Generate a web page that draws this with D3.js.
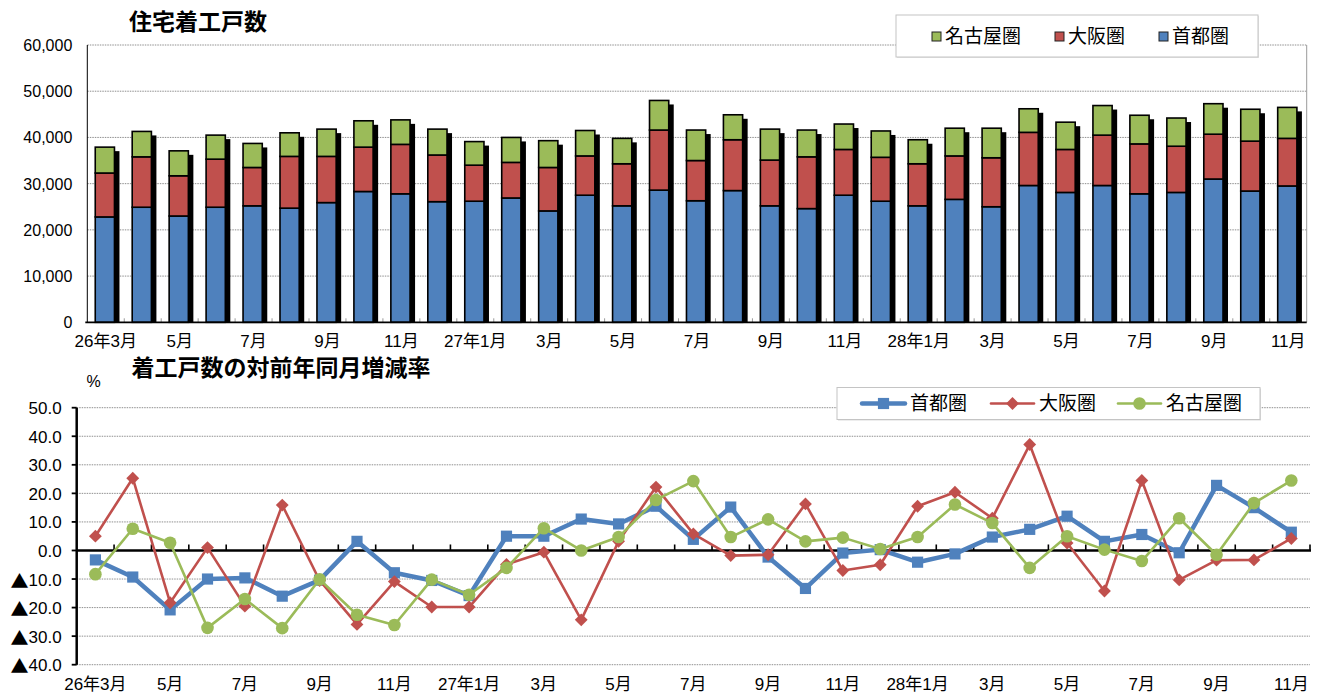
<!DOCTYPE html>
<html>
<head>
<meta charset="utf-8">
<script src="https://cdn.jsdelivr.net/npm/d3@7"></script>
<style>
  body { margin: 0; background: #fff; }
  svg { display: block; }
  text { font-family: "Liberation Sans", "Noto Sans CJK JP", sans-serif; fill: #000; }
  .cjk { font-family: "Noto Sans CJK JP", sans-serif; }
</style>
</head>
<body>
<svg id="chart" width="1320" height="693"></svg>
<script>
// 月の区分（26年3月〜28年11月）
const categories = [
  "26年3月","4月","5月","6月","7月","8月","9月","10月","11月","12月",
  "27年1月","2月","3月","4月","5月","6月","7月","8月","9月","10月","11月","12月",
  "28年1月","2月","3月","4月","5月","6月","7月","8月","9月","10月","11月"
];

// 住宅着工戸数（戸）
const shutoken = [22800, 24900, 23000, 24900, 25200, 24700, 25900, 28300, 27800, 26100,
  26200, 26900, 24100, 27500, 25200, 28600, 26300, 28500, 25200, 24600, 27500, 26200,
  25200, 26600, 25000, 29600, 28100, 29600, 27800, 28100, 31000, 28400, 29500];
const osaka = [9500, 10900, 8700, 10400, 8300, 11200, 10000, 9600, 10700, 10100,
  7800, 7700, 9400, 8500, 9100, 13000, 8700, 11000, 9900, 11200, 9900, 9500,
  9100, 9400, 10600, 11500, 9300, 10900, 10800, 10000, 9700, 10800, 10300];
const nagoya = [5600, 5500, 5400, 5200, 5200, 5100, 5900, 5700, 5300, 5600,
  5100, 5400, 5800, 5500, 5500, 6400, 6600, 5400, 6700, 5800, 5500, 5700,
  5200, 6000, 6400, 5100, 5900, 6400, 6200, 6100, 6600, 6900, 6700];

// 対前年同月増減率（%）
const shutokenRate = [-3.3, -9.3, -20.8, -10.0, -9.6, -16.0, -10.4, 3.2, -7.8, -10.5,
  -15.8, 5.0, 5.0, 11.0, 9.3, 15.5, 3.9, 15.2, -2.3, -13.3, -0.9, 0.3,
  -4.1, -1.2, 4.7, 7.4, 12.0, 3.2, 5.6, -0.8, 22.8, 15.0, 6.4];
const osakaRate = [5.0, 25.3, -18.3, 1.0, -19.5, 15.9, -10.5, -25.9, -10.9, -19.8,
  -19.8, -4.9, -0.6, -24.3, 3.2, 22.2, 5.8, -1.8, -1.5, 16.3, -7.0, -5.0,
  15.5, 20.4, 11.3, 37.1, 2.6, -14.2, 24.5, -10.3, -3.4, -3.3, 4.2];
const nagoyaRate = [-8.3, 7.6, 2.7, -27.1, -17.0, -27.2, -10.1, -22.5, -26.1, -10.2,
  -15.5, -6.1, 7.8, 0.0, 4.7, 17.7, 24.3, 4.7, 10.9, 3.2, 4.5, 0.5,
  4.7, 16.1, 9.6, -6.1, 5.0, 0.3, -3.7, 11.3, -1.5, 16.6, 24.5];

// 軸目盛
const countTicks = [0, 10000, 20000, 30000, 40000, 50000, 60000];
const rateTicks = [-40, -30, -20, -10, 0, 10, 20, 30, 40, 50];

const idx = d3.range(categories.length);            // 各月の位置（重複する月名を区別）
const labelIdx = idx.filter(i => i % 2 === 0);       // 2か月おきに表示

const colors = { shutoken: "#4F81BD", osaka: "#C0504D", nagoya: "#9BBB59" };
const names = { shutoken: "首都圏", osaka: "大阪圏", nagoya: "名古屋圏" };

const svg = d3.select("#chart");
svg.append("rect").attr("width", 1320).attr("height", 693).attr("fill", "#fff");

const gridStyle = sel => sel.attr("stroke", "#8f8f8f").attr("stroke-width", 1).attr("stroke-dasharray", "1.5,1");

/* ---------------- 上段：住宅着工戸数（積み上げ棒） ---------------- */
const area1 = { left: 87.3, right: 1306.7, top: 45, bottom: 322.3 };
const x1 = d3.scaleBand().domain(idx).range([area1.left, area1.right]);
const y1 = d3.scaleLinear().domain([0, 60000]).range([area1.bottom, area1.top]);

const g1 = svg.append("g");

g1.append("text").attr("x", 198).attr("y", 22).attr("text-anchor", "middle")
  .attr("dominant-baseline", "central").attr("font-size", 23).attr("font-weight", "bold")
  .text("住宅着工戸数");

g1.append("g").selectAll("line").data(countTicks.filter(d => d > 0)).join("line")
  .attr("x1", area1.left).attr("x2", area1.right).attr("y1", d => y1(d)).attr("y2", d => y1(d))
  .call(gridStyle);

// 右枠
g1.append("line").attr("x1", area1.right).attr("x2", area1.right).attr("y1", area1.top).attr("y2", area1.bottom)
  .attr("stroke", "#9a9a9a").attr("stroke-width", 1);

const rows = idx.map(i => ({ i, shutoken: shutoken[i], osaka: osaka[i], nagoya: nagoya[i] }));
const keys = ["shutoken", "osaka", "nagoya"];
const stacked = d3.stack().keys(keys)(rows);

const barW = x1.bandwidth() * 0.52;
const barOff = x1.bandwidth() * 0.215;
const shadowDx = 5, shadowDy = 4;

// 影
g1.append("g").selectAll("rect").data(rows).join("rect")
  .attr("x", d => x1(d.i) + barOff + shadowDx)
  .attr("y", d => y1(d.shutoken + d.osaka + d.nagoya) + shadowDy)
  .attr("width", barW)
  .attr("height", d => y1(0) - y1(d.shutoken + d.osaka + d.nagoya) - shadowDy)
  .attr("fill", "#000");

stacked.forEach(layer => {
  g1.append("g").selectAll("rect").data(layer).join("rect")
    .attr("x", d => x1(d.data.i) + barOff)
    .attr("y", d => y1(d[1]))
    .attr("width", barW)
    .attr("height", d => y1(d[0]) - y1(d[1]))
    .attr("fill", colors[layer.key])
    .attr("stroke", "#000").attr("stroke-width", 1.6);
});

// 軸
g1.append("line").attr("x1", area1.left).attr("x2", area1.left).attr("y1", area1.top).attr("y2", area1.bottom)
  .attr("stroke", "#000").attr("stroke-width", 1);
g1.append("g").selectAll("line").data(d3.range(1, categories.length)).join("line")
  .attr("x1", i => x1(i)).attr("x2", i => x1(i))
  .attr("y1", area1.bottom - 4).attr("y2", area1.bottom)
  .attr("stroke", "#9a9a9a").attr("stroke-width", 1);
g1.append("line").attr("x1", area1.left - 2).attr("x2", area1.right).attr("y1", area1.bottom).attr("y2", area1.bottom)
  .attr("stroke", "#000").attr("stroke-width", 1.8);

const yAxis1 = g1.append("g").attr("transform", `translate(${area1.left},0)`)
  .call(d3.axisLeft(y1).tickValues(countTicks).tickSize(0).tickPadding(15).tickFormat(d3.format(",")));
yAxis1.select(".domain").remove();
yAxis1.attr("font-family", null).attr("font-size", null);
yAxis1.selectAll("text").attr("font-size", 16).attr("dy", null).attr("dominant-baseline", "central");

const xAxis1 = g1.append("g").attr("transform", `translate(0,${area1.bottom})`)
  .call(d3.axisBottom(x1).tickValues(labelIdx).tickSize(0).tickFormat(i => categories[i]));
xAxis1.select(".domain").remove();
xAxis1.attr("font-family", null).attr("font-size", null);
xAxis1.selectAll("text").attr("font-size", 17).attr("y", 19).attr("dy", null)
  .attr("dominant-baseline", "central");

// 凡例（上段）
const leg1 = g1.append("g");
leg1.append("rect").attr("x", 897).attr("y", 16).attr("width", 362).attr("height", 42).attr("fill", "#e4e4e4");
leg1.append("rect").attr("x", 896).attr("y", 15).attr("width", 362).attr("height", 42)
  .attr("fill", "#fff").attr("stroke", "#c4c4c4").attr("stroke-width", 1);
const leg1Items = [
  { key: "nagoya", x: 932 },
  { key: "osaka", x: 1055 },
  { key: "shutoken", x: 1159 }
];
leg1.selectAll("g.item").data(leg1Items).join("g").attr("class", "item")
  .each(function (d) {
    const g = d3.select(this);
    g.append("rect").attr("x", d.x).attr("y", 32).attr("width", 9).attr("height", 9)
      .attr("fill", colors[d.key]).attr("stroke", "#222").attr("stroke-width", 1);
    g.append("text").attr("x", d.x + 13).attr("y", 36.5).attr("font-size", 19)
      .attr("dominant-baseline", "central").text(names[d.key]);
  });

/* ---------------- 下段：対前年同月増減率（折れ線） ---------------- */
const area2 = { left: 76.7, right: 1310, top: 407.7, bottom: 664.7 };
const x2 = d3.scaleBand().domain(idx).range([area2.left, area2.right]);
const y2 = d3.scaleLinear().domain([-40, 50]).range([area2.bottom, area2.top]);
const cx = i => x2(i) + x2.bandwidth() / 2;

const g2 = svg.append("g");

g2.append("text").attr("x", 281).attr("y", 368).attr("text-anchor", "middle")
  .attr("dominant-baseline", "central").attr("font-size", 23).attr("font-weight", "bold")
  .text("着工戸数の対前年同月増減率");
g2.append("text").attr("x", 93.5).attr("y", 381).attr("text-anchor", "middle")
  .attr("dominant-baseline", "central").attr("font-size", 16).text("%");

g2.append("g").selectAll("line").data(rateTicks.filter(d => d !== 0)).join("line")
  .attr("x1", area2.left).attr("x2", area2.right).attr("y1", d => y2(d)).attr("y2", d => y2(d))
  .call(gridStyle);

// Y軸
g2.append("line").attr("x1", area2.left).attr("x2", area2.left).attr("y1", area2.top).attr("y2", area2.bottom)
  .attr("stroke", "#000").attr("stroke-width", 2.5);
g2.append("g").selectAll("line").data(rateTicks).join("line")
  .attr("x1", area2.left - 5).attr("x2", area2.left).attr("y1", d => y2(d)).attr("y2", d => y2(d))
  .attr("stroke", "#000").attr("stroke-width", 1.8);

const yAxis2 = g2.append("g").attr("transform", `translate(${area2.left},0)`)
  .call(d3.axisLeft(y2).tickValues(rateTicks).tickSize(0).tickPadding(15)
    .tickFormat(d => (d < 0 ? "▲" : "") + Math.abs(d).toFixed(1)));
yAxis2.select(".domain").remove();
yAxis2.attr("font-family", null).attr("font-size", null);
// 負の値は全角の▲で表示
yAxis2.selectAll("text").attr("font-size", 17).attr("dy", null).attr("dominant-baseline", "central")
  .each(function (d) {
    const t = d3.select(this).text(null);
    if (d < 0) t.append("tspan").attr("class", "cjk").attr("font-size", 18).text("▲");
    t.append("tspan").text(Math.abs(d).toFixed(1));
  });

// ゼロ線と区切り目盛
g2.append("line").attr("x1", area2.left).attr("x2", area2.right + 1).attr("y1", y2(0)).attr("y2", y2(0))
  .attr("stroke", "#000").attr("stroke-width", 2.6);
g2.append("g").selectAll("line").data(d3.range(1, categories.length + 1)).join("line")
  .attr("x1", i => area2.left + i * x2.bandwidth()).attr("x2", i => area2.left + i * x2.bandwidth())
  .attr("y1", y2(0) - 6).attr("y2", y2(0))
  .attr("stroke", "#000").attr("stroke-width", 1.6);

const xAxis2 = g2.append("g").attr("transform", `translate(0,${area2.bottom})`)
  .call(d3.axisBottom(x2).tickValues(labelIdx).tickSize(0).tickFormat(i => categories[i]));
xAxis2.select(".domain").remove();
xAxis2.attr("font-family", null).attr("font-size", null);
xAxis2.selectAll("text").attr("font-size", 17).attr("y", 19.5).attr("dy", null)
  .attr("dominant-baseline", "central");

const series = [
  { key: "shutoken", values: shutokenRate, width: 4.5, symbol: d3.symbolSquare, size: 125 },
  { key: "osaka", values: osakaRate, width: 2.6, symbol: d3.symbolDiamond2, size: 105 },
  { key: "nagoya", values: nagoyaRate, width: 2.6, symbol: d3.symbolCircle, size: 125 }
];
const line = d3.line().x(d => cx(d.i)).y(d => y2(d.v));

series.forEach(s => {
  const pts = idx.map(i => ({ i, v: s.values[i] }));
  const g = g2.append("g");
  g.append("path").datum(pts).attr("d", line).attr("fill", "none")
    .attr("stroke", colors[s.key]).attr("stroke-width", s.width).attr("stroke-linejoin", "round");
  g.selectAll("path.m").data(pts).join("path").attr("class", "m")
    .attr("transform", d => `translate(${cx(d.i)},${y2(d.v)})`)
    .attr("d", d3.symbol().type(s.symbol).size(s.size))
    .attr("fill", colors[s.key]);
});

// 凡例（下段）
const leg2 = g2.append("g");
leg2.append("rect").attr("x", 838).attr("y", 388.5).attr("width", 423).attr("height", 32).attr("fill", "#dcdcdc");
leg2.append("rect").attr("x", 837).attr("y", 387.5).attr("width", 423).attr("height", 32)
  .attr("fill", "#fff").attr("stroke", "#c4c4c4").attr("stroke-width", 1);
const leg2Items = [
  { s: series[0], x: 862 },
  { s: series[1], x: 991 },
  { s: series[2], x: 1118 }
];
leg2.selectAll("g.item").data(leg2Items).join("g").attr("class", "item")
  .each(function (d) {
    const g = d3.select(this);
    const ly = 403.5;
    g.append("line").attr("x1", d.x).attr("x2", d.x + 43).attr("y1", ly).attr("y2", ly)
      .attr("stroke", colors[d.s.key]).attr("stroke-width", d.s.width).attr("stroke-linecap", "round");
    g.append("path").attr("transform", `translate(${d.x + 21.5},${ly})`)
      .attr("d", d3.symbol().type(d.s.symbol).size(d.s.size)).attr("fill", colors[d.s.key]);
    g.append("text").attr("x", d.x + 48).attr("y", ly).attr("font-size", 19)
      .attr("dominant-baseline", "central").text(names[d.s.key]);
  });
</script>
</body>
</html>
